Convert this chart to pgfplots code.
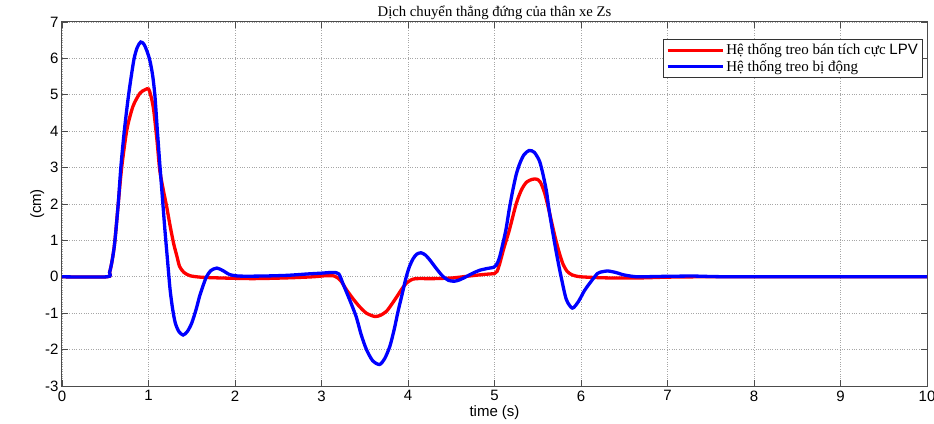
\documentclass[border=0pt]{standalone}
\usepackage{fontspec}
\setmainfont{Liberation Serif}
\setsansfont{Liberation Sans}
\usepackage{pgfplots}
\pgfplotsset{compat=1.18}
\begin{document}
\begin{tikzpicture}
\useasboundingbox (-62pt,-37pt) rectangle (872pt,386pt);
\begin{axis}[
  at={(0pt,0pt)}, anchor=south west,
  scale only axis, width=865pt, height=364pt,
  xmin=0, xmax=10, ymin=-3, ymax=7,
  xtick={0,1,...,10}, ytick={-3,-2,...,7},
  tick align=inside, major tick length=6pt,
  tick style={black!70, line width=0.8pt},
  axis line style={black!70, line width=1pt},
  grid=major,
  grid style={dotted, gray!70, line width=0.9pt},
  /pgf/number format/assume math mode=true,
  ticklabel style={font=\sffamily\fontsize{15}{17}\selectfont},
  xticklabel style={yshift=-1pt},
  title={\fontsize{14.7}{16}\selectfont Dịch chuyển thẳng đứng của thân xe Zs},
  title style={yshift=-7pt},
  xlabel={\sffamily\fontsize{15}{17}\selectfont time (s)},
  xlabel style={yshift=2pt},
  ylabel={\sffamily\fontsize{15}{17}\selectfont (cm)},
  ylabel style={yshift=-6pt},
  legend style={at={(0.995,0.953)}, anchor=north east, draw=black!80, line width=0.8pt,
    font=\fontsize{15}{16}\selectfont, row sep=0pt, inner sep=2.5pt},
  legend cell align=left,
  legend image code/.code={\draw[#1, line width=3.3pt] (0pt,0pt) -- (55pt,0pt);},
]
\addplot[red, line width=3.3pt, smooth, tension=0.45] coordinates {
(0,0) (0.52,0) (0.55,0.12) (0.58,0.45) (0.61,0.95) (0.65,2.0) (0.69,3.0) (0.75,4.04) (0.82,4.68)
(0.90,5.04) (0.96,5.14) (1.0,5.16) (1.03,4.95) (1.06,4.58) (1.10,3.7) (1.13,2.93)
(1.17,2.4) (1.21,1.93) (1.25,1.4) (1.29,0.92) (1.33,0.55) (1.36,0.28) (1.41,0.12)
(1.48,0.03) (1.6,-0.01) (1.8,-0.03) (2.2,-0.05) (2.6,-0.03) (2.9,0.0) (3.05,0.03)
(3.15,0.02) (3.22,-0.1) (3.29,-0.36) (3.37,-0.62) (3.44,-0.82) (3.52,-1.0) (3.615,-1.09)
(3.68,-1.06) (3.75,-0.95) (3.81,-0.76) (3.87,-0.55) (3.93,-0.33) (3.98,-0.18) (4.04,-0.08)
(4.1,-0.05) (4.3,-0.05) (4.52,-0.03) (4.7,0.02) (4.9,0.07) (5.0,0.09) (5.03,0.15)
(5.06,0.36) (5.11,0.8) (5.17,1.27) (5.25,2.0) (5.31,2.38) (5.37,2.6) (5.44,2.68)
(5.49,2.68) (5.53,2.6) (5.58,2.3) (5.63,1.82) (5.67,1.4) (5.71,1.0) (5.75,0.65)
(5.79,0.36) (5.84,0.15) (5.90,0.05) (6.0,0.0) (6.3,-0.03) (6.7,-0.03) (7.0,-0.01)
(7.5,0) (10,0)
};
\addlegendentry{Hệ thống treo bán tích cực \textsf{LPV}}
\addplot[blue, line width=3.3pt, smooth, tension=0.45] coordinates {
(0,0) (0.52,0) (0.55,0.12) (0.58,0.45) (0.61,0.95) (0.65,2.0) (0.68,3.0) (0.72,4.0)
(0.77,5.0) (0.83,5.95) (0.87,6.3) (0.91,6.45) (0.95,6.38) (0.99,6.15) (1.02,5.9)
(1.05,5.5) (1.075,4.95) (1.10,4.1) (1.13,3.12) (1.16,2.2) (1.19,1.28) (1.22,0.45)
(1.25,-0.36) (1.28,-0.9) (1.31,-1.27) (1.35,-1.5) (1.40,-1.6) (1.45,-1.5) (1.50,-1.27)
(1.55,-0.9) (1.59,-0.54) (1.63,-0.25) (1.67,0.0) (1.72,0.17) (1.79,0.24) (1.86,0.17)
(1.94,0.06) (2.05,0.02) (2.3,0.02) (2.6,0.04) (2.85,0.08) (3.0,0.1) (3.13,0.12)
(3.2,0.08) (3.25,-0.2) (3.32,-0.6) (3.40,-1.09) (3.46,-1.6) (3.52,-2.0) (3.59,-2.3)
(3.67,-2.41) (3.73,-2.25) (3.79,-1.91) (3.84,-1.45) (3.885,-0.95) (3.93,-0.5) (3.98,0.0)
(4.02,0.3) (4.06,0.5) (4.1,0.62) (4.15,0.66) (4.2,0.6) (4.25,0.47) (4.32,0.25)
(4.40,0.02) (4.47,-0.1) (4.54,-0.12) (4.6,-0.08) (4.67,0.0) (4.75,0.1) (4.83,0.18)
(4.92,0.23) (4.99,0.26) (5.02,0.32) (5.06,0.55) (5.13,1.27) (5.17,1.85) (5.21,2.36)
(5.25,2.8) (5.29,3.1) (5.34,3.35) (5.40,3.47) (5.46,3.42) (5.52,3.18) (5.56,2.82)
(5.60,2.36) (5.63,1.85) (5.67,1.27) (5.72,0.6) (5.77,0.0) (5.83,-0.62) (5.90,-0.86)
(5.97,-0.68) (6.04,-0.38) (6.10,-0.18) (6.19,0.09) (6.25,0.14) (6.31,0.16) (6.4,0.12)
(6.5,0.05) (6.65,0.0) (6.9,0.01) (7.3,0.02) (7.8,0.0) (10,0)
};
\addlegendentry{Hệ thống treo bị động}
\end{axis}
\end{tikzpicture}
\end{document}
